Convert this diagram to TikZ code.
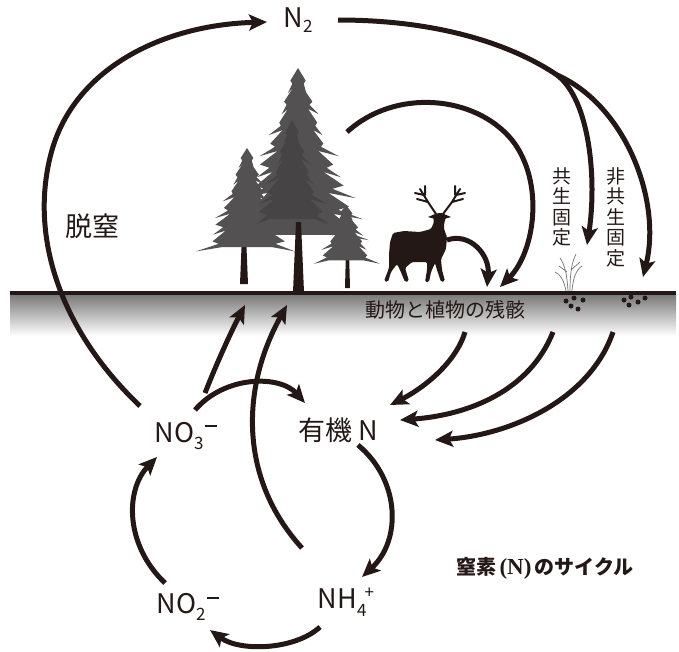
\documentclass[tikz,border=0pt]{standalone}
\usepackage{fontspec}
\setmainfont{Noto Sans CJK JP}
\newfontfamily\latinserif{Liberation Serif}
\usetikzlibrary{arrows.meta}

\definecolor{ink}{HTML}{231815}
\definecolor{treegray}{HTML}{535151}
\definecolor{treedark}{HTML}{464444}

% small raised / lowered parts of chemical formulas
\newcommand{\chemsub}[2]{\raisebox{-#2pt}{\fontsize{17}{17}\selectfont #1}}
\newcommand{\chemminus}{\hspace{2pt}\rule[15pt]{12pt}{2pt}}

% stylised fir: x, y of apex, foliage height, half width, number of tiers, colour
\newcommand{\firtree}[6]{%
  \fill[#6] (#1,#2)
    \foreach \k in {1,...,#5}{
      -- ({#1-0.75*#4*\k/#5*(1+0.1*sin(\k*90))}, {#2+#3*\k/#5-0.4*#3/#5})
      -- ({#1-0.62*#4*\k/#5}, {#2+#3*\k/#5-0.25*#3/#5})
      -- ({#1-#4*\k/#5*(1+0.12*sin(\k*130))}, {#2+#3*\k/#5+0.2*#3/#5})
      -- ({#1-0.55*#4*\k/#5}, {#2+#3*\k/#5-0.05*#3/#5})
    }
    \foreach \k in {#5,...,1}{
      -- ({#1+0.55*#4*\k/#5}, {#2+#3*\k/#5-0.05*#3/#5})
      -- ({#1+#4*\k/#5*(1+0.12*sin(\k*200+40))}, {#2+#3*\k/#5+0.2*#3/#5})
      -- ({#1+0.62*#4*\k/#5}, {#2+#3*\k/#5-0.25*#3/#5})
      -- ({#1+0.75*#4*\k/#5*(1+0.1*sin(\k*70+20))}, {#2+#3*\k/#5-0.4*#3/#5})
    } -- cycle;
}

\begin{document}
\begin{tikzpicture}[x=1pt,y=-1pt,
  flow/.style={draw=ink, line width=5pt,
    -{Stealth[length=18pt,width=16pt,inset=4pt]}},
  plain/.style={draw=ink, line width=5pt},
  lbl/.style={text=ink, inner sep=0pt, font=\fontsize{27}{30}\selectfont},
  vlbl/.style={text=ink, inner sep=0pt, align=center,
    font=\fontsize{19}{20.5}\selectfont},
  small/.style={text=ink, inner sep=0pt, font=\fontsize{20}{22}\selectfont}]
\useasboundingbox (0,0) rectangle (679,651);

% soil band and ground line
\shade[top color=black!52, bottom color=white] (10,295) rectangle (676,336);
\draw[ink, line width=4pt] (10,293) -- (676,293);

% conifers
\fill[ink] (240,284) -- (242,235) -- (246,235) -- (248,284) -- cycle;
\fill[ink] (345,288) -- (346,250) -- (349,250) -- (350,288) -- cycle;
\firtree{247}{148}{100}{46}{6}{treegray}
\firtree{346}{205}{56}{31}{4}{treegray}
\firtree{298}{68}{168}{74}{8}{treegray}
\firtree{292}{120}{100}{40}{5}{treedark}
\fill[ink] (293,292) -- (296,222) -- (301,222) -- (304,292) -- cycle;

% deer
\fill[ink, rounded corners=1.5pt]
  (390,242) -- (393,233) -- (404,231) -- (420,232) -- (431,229)
  -- (434,222) -- (433,217) -- (437,213) -- (443,213) -- (446,217)
  -- (444,224) -- (444,229) -- (447,237) -- (446,249) -- (441,259)
  -- (442,270) -- (445,281) -- (441,282) -- (437,270) -- (435,263)
  -- (431,272) -- (429,282) -- (425,282) -- (427,270) -- (427,262)
  -- (412,262) -- (405,268) -- (409,281) -- (405,282) -- (400,270)
  -- (397,264) -- (391,272) -- (388,282) -- (384,281) -- (389,268)
  -- (389,255) -- cycle;
\fill[ink] (428,217) -- (435,214) -- (435,219) -- cycle;
\fill[ink] (451,217) -- (444,214) -- (444,219) -- cycle;
\draw[ink, line width=2pt, line cap=round, line join=round]
  (436,214) -- (428,202) -- (420,189)
  (428,202) -- (417,199) (424,195) -- (415,193) (425,195) -- (425,186)
  (443,214) -- (452,202) -- (460,189)
  (452,202) -- (463,199) (456,195) -- (465,193) (455,195) -- (455,186);

% small plant at the soil surface
\draw[black!55, line width=0.7pt]
  (568,291) .. controls (567,275) and (565,265) .. (560,258)
  (570,291) .. controls (570,272) and (572,262) .. (576,254)
  (572,291) .. controls (573,278) and (576,270) .. (582,266)
  (566,291) .. controls (564,280) and (560,274) .. (555,272)
  (571,270) -- (580,262) (567,272) -- (559,266);

% soil particles
\foreach \p in {(566,301),(574,298),(571,306),(578,309),(583,300)}
  \fill[ink] \p circle (2.5);
\foreach \p in {(624,300),(631,297),(629,305),(638,302),(645,298)}
  \fill[ink] \p circle (2.5);

% labels
\node[lbl] (n2) at (298,20) {N\chemsub{2}{5}};
\node[lbl] (datsu) at (92,226) {脱窒};
\node[lbl] (no3) at (186,436) {NO\chemsub{3}{7}\chemminus};
\node[lbl] (org) at (338,430) {有機 N};
\node[lbl] (nh4) at (346,602) {NH\chemsub{4}{8}\hspace{-2pt}\raisebox{10pt}{\fontsize{17}{17}\selectfont +}};
\node[lbl] (no2) at (188,607) {NO\chemsub{2}{7}\chemminus};
\node[small] (remains) at (445,310) {動物と植物の残骸};
\node[vlbl] (sym) at (562,207) {共\\生\\固\\定};
\node[vlbl] (nonsym) at (616,217) {非\\共\\生\\固\\定};
\node[text=ink, inner sep=0pt, font=\fontsize{20}{22}\selectfont\bfseries] (title) at (545,568)
  {窒素\hspace{3pt}{\latinserif\bfseries\fontsize{23}{23}\selectfont (N)}\hspace{3pt}のサイクル};

% connector end points
\coordinate (denitA) at (140,406);
\coordinate (denitB) at (267,22);
\coordinate (n2out) at (338,20);
\coordinate (split) at (557,75);
\coordinate (symEnd) at (587,245);
\coordinate (nonsymEnd) at (643,277);
\coordinate (treeOut) at (347,132);
\coordinate (litterA) at (500,287);
\coordinate (deerOut) at (447,240);
\coordinate (litterB) at (487,287);
\coordinate (no3up) at (205,393);
\coordinate (plantA) at (245,305);
\coordinate (nh4up) at (302,548);
\coordinate (plantB) at (287,305);
\coordinate (no3right) at (195,410);
\coordinate (orgIn) at (305,403);
\coordinate (orgDown) at (358,445);
\coordinate (nh4In) at (362,577);
\coordinate (nh4Out) at (320,627);
\coordinate (no2In) at (210,630);
\coordinate (no2Out) at (165,583);
\coordinate (no3In) at (157,457);
\coordinate (soilA) at (465,332);
\coordinate (orgA) at (390,405);
\coordinate (soilB) at (553,332);
\coordinate (orgB) at (400,420);
\coordinate (soilC) at (613,332);
\coordinate (orgC) at (435,440);

% denitrification back to N2
\draw[flow] (denitA) .. controls (60,330) and (28,235) .. (52,150)
  .. controls (75,70) and (160,25) .. (denitB);
% fixation branches
\draw[plain] (n2out) .. controls (450,20) and (520,50) .. (split);
\draw[flow] (split) .. controls (590,100) and (597,180) .. (symEnd);
\draw[flow] (split) .. controls (625,105) and (662,200) .. (nonsymEnd);
% litter from plants and animals
\draw[flow] (treeOut) .. controls (395,88) and (475,95) .. (512,140)
  .. controls (545,182) and (535,252) .. (litterA);
\draw[flow] (deerOut) .. controls (470,232) and (490,255) .. (litterB);
% uptake by plants
\draw[flow] (no3up) .. controls (218,360) and (232,330) .. (plantA);
\draw[flow] (nh4up) .. controls (240,480) and (240,390) .. (plantB);
% soil cycle
\draw[flow] (no3right) .. controls (225,375) and (280,375) .. (orgIn);
\draw[flow] (orgDown) .. controls (400,480) and (402,540) .. (nh4In);
\draw[flow] (nh4Out) .. controls (295,650) and (240,652) .. (no2In);
\draw[flow] (no2Out) .. controls (125,545) and (125,490) .. (no3In);
% decomposition into organic N
\draw[flow] (soilA) .. controls (455,365) and (420,390) .. (orgA);
\draw[flow] (soilB) .. controls (530,390) and (470,415) .. (orgB);
\draw[flow] (soilC) .. controls (590,400) and (510,435) .. (orgC);
\end{tikzpicture}
\end{document}
